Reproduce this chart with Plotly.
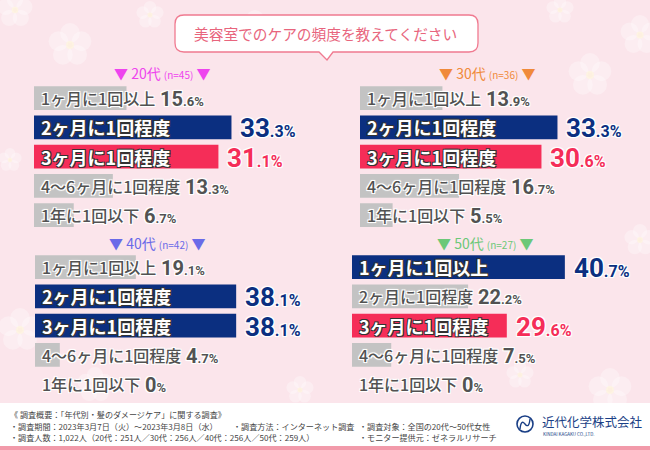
import math
import plotly.graph_objects as go

# ---------------- data ----------------
categories = ["1ヶ月に1回以上", "2ヶ月に1回程度", "3ヶ月に1回程度", "4〜6ヶ月に1回程度", "1年に1回以下"]
groups = ["20代", "30代", "40代", "50代"]
sample_n = [45, 36, 42, 27]
values_20 = [15.6, 33.3, 31.1, 13.3, 6.7]
values_30 = [13.9, 33.3, 30.6, 16.7, 5.5]
values_40 = [19.1, 38.1, 38.1, 4.7, 0]
values_50 = [40.7, 22.2, 29.6, 7.5, 0]
highlight_20 = ["g", "n", "r", "g", "g"]
highlight_30 = ["g", "n", "r", "g", "g"]
highlight_40 = ["g", "n", "n", "g", "g"]
highlight_50 = ["n", "g", "r", "g", "g"]
title_text = "美容室でのケアの頻度を教えてください"
footer_lines = [
    ["《 調査概要：「年代別・髪のダメージケア」に関する調査》"],
    ["・調査期間：2023年3月7日（火）～2023年3月8日（水）", "・調査方法：インターネット調査", "・調査対象：全国の20代～50代女性"],
    ["・調査人数：1,022人（20代：251人／30代：256人／40代：256人／50代：259人）", "", "・モニター提供元：ゼネラルリサーチ"],
]
company = "近代化学株式会社"
company_en = "KINDAI KAGAKU CO.,LTD."

# ---------------- styling ----------------
W, H = 650, 450
JP = "Noto Sans CJK JP"
NUM = "Roboto"
NAVY = "#0b2f80"
RED = "#f52d58"
GRAY = "#c3c3c3"
TXT = "#525252"
BAR_COL = {"g": GRAY, "n": NAVY, "r": RED}
VAL_COL = {"g": TXT, "n": NAVY, "r": RED}
WHITE_HALO = "1px 1px 0 #fff, -1px -1px 0 #fff, 1px -1px 0 #fff, -1px 1px 0 #fff, 0 0 3px #fff"
DARK_HALO = "1px 1px 0 #333, -1px -1px 0 #333, 1px -1px 0 #333, -1px 1px 0 #333"

ROW = 29.25
panels = [
    dict(vals=values_20, hl=highlight_20, x0=34, top=83.5, scale=5.93, hx=162, hy=73, hc="#ee44ee"),
    dict(vals=values_30, hl=highlight_30, x0=360, top=83.5, scale=5.93, hx=487, hy=73, hc="#f08a3a"),
    dict(vals=values_40, hl=highlight_40, x0=35, top=252.5, scale=5.28, hx=157, hy=243, hc="#6a6ae8"),
    dict(vals=values_50, hl=highlight_50, x0=352, top=252.5, scale=5.23, hx=485, hy=243, hc="#6cc878"),
]
PANEL_W = 270


def fx(px):
    return px / W


def fy(py):
    return 1 - py / H


def text_w(s, fs):
    w = 0
    for ch in s:
        if ch.isascii():
            w += 0.58 * fs
        else:
            w += 1.0 * fs
    return w


fig = go.Figure()
annotations = []
shapes = []
layout_axes = {}

# ---------------- background flowers ----------------
flowers = [(70, 45, 22), (15, 10, 18), (255, 30, 20), (150, 15, 14), (590, 75, 22), (640, 35, 20),
           (560, 10, 14), (20, 330, 22), (95, 385, 18), (610, 390, 22), (520, 375, 14), (300, 390, 14),
           (640, 240, 16), (10, 160, 12)]
for cx, cy, rr in flowers:
    for k in range(5):
        a = math.pi / 2 + k * 2 * math.pi / 5
        px, py = cx + 0.55 * rr * math.cos(a), cy - 0.55 * rr * math.sin(a)
        pr = 0.45 * rr
        shapes.append(dict(type="circle", xref="paper", yref="paper", layer="below",
                           x0=fx(px - pr), x1=fx(px + pr), y0=fy(py + pr), y1=fy(py - pr),
                           fillcolor="rgba(255,255,255,0.3)", line=dict(width=0)))
    shapes.append(dict(type="circle", xref="paper", yref="paper", layer="below",
                       x0=fx(cx - 0.18 * rr), x1=fx(cx + 0.18 * rr), y0=fy(cy + 0.18 * rr), y1=fy(cy - 0.18 * rr),
                       fillcolor="rgba(255,250,215,0.55)", line=dict(width=0)))

for i, p in enumerate(panels):
    k = "" if i == 0 else str(i + 1)
    xa, ya = "x" + k, "y" + k
    colors = [BAR_COL[h] for h in p["hl"]]
    fig.add_trace(go.Bar(
        y=categories, x=p["vals"], orientation="h", marker=dict(color=colors, line=dict(width=0)),
        width=0.82, xaxis=xa, yaxis=ya, hoverinfo="skip", showlegend=False,
    ))
    layout_axes["xaxis" + k] = dict(domain=[fx(p["x0"]), fx(p["x0"] + PANEL_W)], range=[0, PANEL_W / p["scale"]],
                                    visible=False, fixedrange=True, anchor=ya)
    layout_axes["yaxis" + k] = dict(domain=[fy(p["top"] + 5 * ROW), fy(p["top"])], type="category",
                                    categoryorder="array", categoryarray=categories, range=[4.5, -0.5],
                                    visible=False, fixedrange=True, anchor=xa)
    for cat, v, h in zip(categories, p["vals"], p["hl"]):
        if h == "g":
            lfs, lcol, lshadow, lw = 16, TXT, WHITE_HALO, 500
        else:
            lfs, lcol, lshadow, lw = 18, "#ffffff", DARK_HALO, 700
        annotations.append(dict(
            xref=xa, yref=ya, x=0, y=cat, text=cat, showarrow=False, xanchor="left", yanchor="middle",
            xshift=5, yshift=0,
            font=dict(family=JP, size=lfs, color=lcol, weight=lw, shadow=lshadow),
        ))
        lab_end = (5 + text_w(cat, lfs)) / p["scale"]
        vx = max(v, lab_end)
        s = f"{v:.1f}" if v else "0"
        if "." in s:
            ip, dp = s.split(".")
            dp = "." + dp
        else:
            ip, dp = s, ""
        big, small = (26, 16) if h != "g" else (20, 13)
        annotations.append(dict(
            xref=xa, yref=ya, x=vx, y=cat, showarrow=False, xanchor="left", yanchor="middle",
            xshift=7 if h != "g" else 4, yshift=-1,
            text=f"{ip}<span style='font-size:{small}px'>{dp}%</span>",
            font=dict(family=NUM, size=big, color=VAL_COL[h], weight=700, shadow=WHITE_HALO),
        ))
    # header
    annotations.append(dict(
        xref="paper", yref="paper", x=fx(p["hx"]), y=fy(p["hy"]), showarrow=False,
        xanchor="center", yanchor="middle",
        text=f"▼ {groups[i]} <span style='font-size:10px'>(n={sample_n[i]})</span> ▼",
        font=dict(family=JP, size=14, color=p["hc"]),
    ))

# ---------------- frame decorations ----------------
shapes.append(dict(type="rect", xref="paper", yref="paper", x0=0, x1=1, y0=fy(446), y1=fy(403),
                   fillcolor="#ffffff", line=dict(width=0), layer="below"))
shapes.append(dict(type="rect", xref="paper", yref="paper", x0=0, x1=1, y0=fy(450), y1=fy(446),
                   fillcolor="#f29aaa", line=dict(width=0), layer="below"))

bx0, bx1, by0, by1, r = 175, 478, 15, 52, 9


def P(x, y):
    return f"{fx(x):.5f},{fy(y):.5f}"


path = (f"M {P(bx0 + r, by0)} L {P(bx1 - r, by0)} Q {P(bx1, by0)} {P(bx1, by0 + r)} "
        f"L {P(bx1, by1 - r)} Q {P(bx1, by1)} {P(bx1 - r, by1)} "
        f"L {P(333, by1)} L {P(327, 60)} L {P(319, by1)} "
        f"L {P(bx0 + r, by1)} Q {P(bx0, by1)} {P(bx0, by1 - r)} "
        f"L {P(bx0, by0 + r)} Q {P(bx0, by0)} {P(bx0 + r, by0)} Z")
shapes.append(dict(type="path", xref="paper", yref="paper", path=path, fillcolor="#ffffff",
                   line=dict(color="#f07a90", width=1.3)))
annotations.append(dict(xref="paper", yref="paper", x=fx(325), y=fy(33.5), showarrow=False,
                        xanchor="center", yanchor="middle", text=title_text,
                        font=dict(family=JP, size=14.7, color="#e8657d")))

col_x = [8, 231, 357]
row_y = [414.5, 426, 437.5]
for r_i, line in enumerate(footer_lines):
    for c_i, t in enumerate(line):
        if not t:
            continue
        annotations.append(dict(xref="paper", yref="paper", x=fx(col_x[c_i]), y=fy(row_y[r_i]), showarrow=False,
                                xanchor="left", yanchor="middle", text=t,
                                font=dict(family=JP, size=8.1, color="#444444")))

shapes.append(dict(type="circle", xref="paper", yref="paper", x0=fx(517), x1=fx(533), y0=fy(432), y1=fy(416),
                   line=dict(color="#1a3f86", width=1.6), fillcolor="rgba(0,0,0,0)"))
shapes.append(dict(type="path", xref="paper", yref="paper",
                   path=f"M {P(520, 429)} Q {P(521, 419)} {P(525, 424)} Q {P(529, 429)} {P(530, 419)}",
                   line=dict(color="#1a3f86", width=1.4)))
annotations.append(dict(xref="paper", yref="paper", x=fx(540), y=fy(421), showarrow=False, xanchor="left",
                        yanchor="middle", text=company, font=dict(family=JP, size=12.5, color="#1a3f86")))
annotations.append(dict(xref="paper", yref="paper", x=fx(541), y=fy(434), showarrow=False, xanchor="left",
                        yanchor="middle", text=company_en, font=dict(family=JP, size=4.5, color="#1a3f86")))

fig.update_layout(
    width=W, height=H, margin=dict(l=0, r=0, t=0, b=0),
    paper_bgcolor="#fbe5eb", plot_bgcolor="rgba(0,0,0,0)",
    showlegend=False, bargap=0.2,
    annotations=annotations, shapes=shapes,
    **layout_axes,
)

fig.write_html("out.html", config={"displayModeBar": False},
               post_script="document.body.style.margin='0px';document.body.style.overflow='hidden';")
